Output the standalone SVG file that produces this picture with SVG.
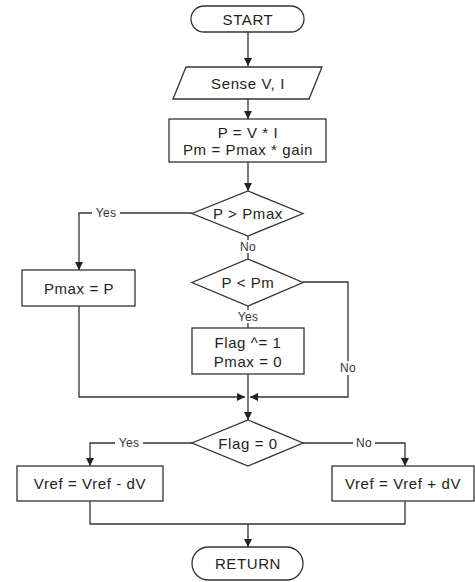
<svg xmlns="http://www.w3.org/2000/svg" width="475" height="582" viewBox="0 0 475 582">
<defs>
<marker id="ah" viewBox="0 0 10 10" refX="10" refY="5" markerWidth="8" markerHeight="8" markerUnits="userSpaceOnUse" orient="auto">
<path d="M0,0 L10,5 L0,10 z" fill="#222"/>
</marker>
<style>
.s{fill:#fff;stroke:#333;stroke-width:1.3}
.c{fill:none;stroke:#333;stroke-width:1.3}
.t{font-family:"Liberation Sans",Arial,sans-serif;font-size:15px;letter-spacing:0.6px;fill:#222;text-anchor:middle;dominant-baseline:central}
.l{font-family:"Liberation Sans",Arial,sans-serif;font-size:12px;letter-spacing:0.3px;fill:#333;text-anchor:middle;dominant-baseline:central}
.bg{fill:#fff}
</style>
</defs>
<rect width="475" height="582" fill="#fff"/>
<g id="connectors">
<path class="c" d="M248,32 V66" marker-end="url(#ah)"/>
<path class="c" d="M248,99 V119" marker-end="url(#ah)"/>
<path class="c" d="M248,162 V191" marker-end="url(#ah)"/>
<path class="c" d="M192,213 H79 V270" marker-end="url(#ah)"/>
<path class="c" d="M248,236 V259"/>
<path class="c" d="M248,306 V328"/>
<path class="c" d="M303,282 H348 V397 H250" marker-end="url(#ah)"/>
<path class="c" d="M79,306 V397 H245" marker-end="url(#ah)"/>
<path class="c" d="M248,374 V420" marker-end="url(#ah)"/>
<path class="c" d="M192,443 H90 V466" marker-end="url(#ah)"/>
<path class="c" d="M303,443 H405 V466" marker-end="url(#ah)"/>
<path class="c" d="M90,501 V524 H405 V501"/>
<path class="c" d="M248,524 V547" marker-end="url(#ah)"/>
<rect class="bg" x="92" y="206" width="28" height="14"/>
<text class="l" x="106" y="213">Yes</text>
<rect class="bg" x="237" y="240" width="22" height="13"/>
<text class="l" x="248" y="246.5">No</text>
<rect class="bg" x="234" y="310" width="28" height="13"/>
<text class="l" x="248" y="316.5">Yes</text>
<rect class="bg" x="337" y="361" width="22" height="14"/>
<text class="l" x="348" y="368">No</text>
<rect class="bg" x="115" y="436" width="28" height="14"/>
<text class="l" x="129" y="443">Yes</text>
<rect class="bg" x="353" y="436" width="22" height="14"/>
<text class="l" x="364" y="443">No</text>
</g>
<g id="start">
<rect class="s" x="191" y="6" width="113" height="26" rx="13" ry="13"/>
<text class="t" x="248" y="19.5">START</text>
</g>
<g id="sense">
<polygon class="s" points="186,67 322,67 309,99 173,99"/>
<text class="t" x="248" y="83">Sense V, I</text>
</g>
<g id="calc">
<rect class="s" x="169" y="119" width="157" height="43"/>
<text class="t" x="248" y="132">P = V * I</text>
<text class="t" x="248" y="149">Pm = Pmax * gain</text>
</g>
<g id="d1">
<polygon class="s" points="248,191 303,213.5 248,236 192,213.5"/>
<text class="t" x="248" y="213.5">P &gt; Pmax</text>
</g>
<g id="pmaxp">
<rect class="s" x="22" y="270" width="113" height="36"/>
<text class="t" x="79" y="288">Pmax = P</text>
</g>
<g id="d2">
<polygon class="s" points="248,259 303,282.5 248,306 192,282.5"/>
<text class="t" x="248" y="282.5">P &lt; Pm</text>
</g>
<g id="flag">
<rect class="s" x="192" y="328" width="112" height="46"/>
<text class="t" x="248" y="342">Flag ^= 1</text>
<text class="t" x="248" y="361">Pmax = 0</text>
</g>
<g id="d3">
<polygon class="s" points="248,420 303,443 248,466 192,443"/>
<text class="t" x="248" y="443">Flag = 0</text>
</g>
<g id="vminus">
<rect class="s" x="17" y="466" width="146" height="35"/>
<text class="t" x="90" y="483.5">Vref = Vref - dV</text>
</g>
<g id="vplus">
<rect class="s" x="332" y="466" width="142" height="35"/>
<text class="t" x="403" y="483.5">Vref = Vref + dV</text>
</g>
<g id="return">
<rect class="s" x="192" y="547" width="111" height="33" rx="16.5" ry="16.5"/>
<text class="t" x="248" y="563.5">RETURN</text>
</g>
</svg>
